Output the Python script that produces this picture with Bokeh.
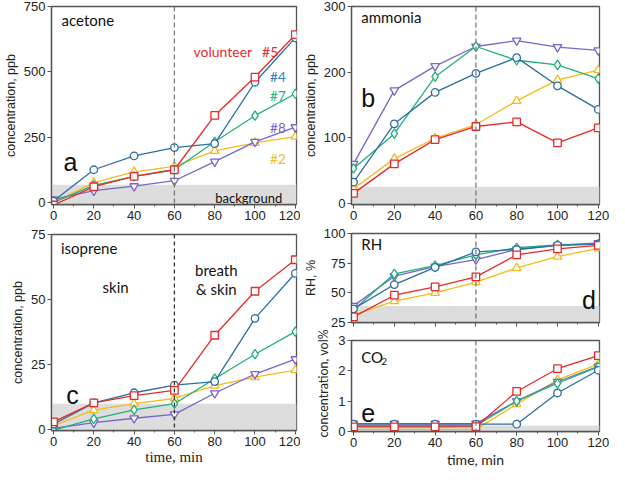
from bokeh.plotting import figure
from bokeh.layouts import row, column
from bokeh.models import Span, Label, BoxAnnotation, FixedTicker, CustomLabelingPolicy, Title
from bokeh.embed import file_html
from bokeh.resources import INLINE

# ---------------- data ----------------
time_min = [0, 20, 40, 60, 80, 100, 120]
x_ticks = [0, 20, 40, 60, 80, 100, 120]
x_minor_ticks = [10, 30, 50, 70, 90, 110]

volunteers = ["#2", "#8", "#7", "#4", "#5"]
vol_colors = {"#5": "#e52a2a", "#4": "#2b6da6", "#7": "#22b07a", "#8": "#7a64c8", "#2": "#f6bb1b"}
vol_markers = {"#5": "square", "#4": "circle", "#7": "diamond", "#8": "inverted_triangle", "#2": "triangle"}
vol_sizes = {"#5": 7.5, "#4": 7.5, "#7": 9.5, "#8": 8.5, "#2": 8.5}

acetone_5 = [-10, 60, 100, 125, 333, 480, 642]
acetone_4 = [5, 125, 178, 210, 225, 460, 630]
acetone_7 = [0, 65, 100, 125, 232, 332, 416]
acetone_8 = [12, 45, 62, 83, 156, 232, 288]
acetone_2 = [0, 76, 117, 138, 197, 228, 252]

ammonia_5 = [15, 60, 97, 117, 124, 92, 115]
ammonia_4 = [32, 121, 169, 198, 222, 179, 143]
ammonia_7 = [53, 106, 193, 239, 218, 211, 190]
ammonia_8 = [60, 172, 209, 239, 248, 238, 233]
ammonia_2 = [22, 68, 99, 120, 156, 188, 203]

isoprene_5 = [3.0, 10.3, 13.1, 15.1, 36.3, 53.2, 65.3]
isoprene_4 = [2.1, 10.3, 14.2, 17.1, 18.5, 42.8, 60.1]
isoprene_7 = [-0.2, 4.2, 7.6, 10.0, 19.6, 29.0, 37.7]
isoprene_8 = [0.5, 2.7, 4.4, 5.9, 14.0, 21.4, 27.1]
isoprene_2 = [1.6, 7.5, 10.0, 12.0, 16.9, 20.2, 22.9]

rh_5 = [29.7, 48.0, 55.0, 63.5, 82.0, 87.0, 90.0]
rh_4 = [36.5, 57.0, 71.5, 84.5, 86.5, 90.0, 91.0]
rh_7 = [35.5, 66.0, 73.0, 82.0, 88.0, 90.5, 91.0]
rh_8 = [39.0, 64.0, 72.0, 78.0, 86.5, 90.0, 92.0]
rh_2 = [31.5, 43.0, 50.0, 59.0, 71.0, 80.5, 87.5]

co2_5 = [0.15, 0.15, 0.15, 0.16, 1.32, 2.07, 2.50]
co2_4 = [0.24, 0.24, 0.24, 0.24, 0.24, 1.27, 2.02]
co2_7 = [0.19, 0.19, 0.19, 0.19, 1.00, 1.59, 2.13]
co2_8 = [0.26, 0.26, 0.26, 0.26, 1.00, 1.64, 2.15]
co2_2 = [0.07, 0.07, 0.07, 0.07, 0.90, 1.70, 2.22]

acetone = {"#5": acetone_5, "#4": acetone_4, "#7": acetone_7, "#8": acetone_8, "#2": acetone_2}
ammonia = {"#5": ammonia_5, "#4": ammonia_4, "#7": ammonia_7, "#8": ammonia_8, "#2": ammonia_2}
isoprene = {"#5": isoprene_5, "#4": isoprene_4, "#7": isoprene_7, "#8": isoprene_8, "#2": isoprene_2}
rh = {"#5": rh_5, "#4": rh_4, "#7": rh_7, "#8": rh_8, "#2": rh_2}
co2 = {"#5": co2_5, "#4": co2_4, "#7": co2_7, "#8": co2_8, "#2": co2_2}

background_acetone = 68
background_ammonia = 25
background_isoprene = 10
background_rh = 39
background_co2 = 0.2

acetone_ticks = [0, 250, 500, 750]
ammonia_ticks = [0, 100, 200, 300]
isoprene_ticks = [0, 25, 50, 75]
rh_ticks = [25, 50, 75, 100]
co2_ticks = [0, 1, 2, 3]

AX = "#555555"
TICK_FONT = "Liberation Sans"
SANS = "Lato"


def make_fig(width, height, yr, yticks, left, right, top, bottom, ylabel):
    p = figure(width=width, height=height, x_range=(-1, 120.6), y_range=yr,
               output_backend="svg", toolbar_location=None,
               min_border_left=left, min_border_right=right,
               min_border_top=top, min_border_bottom=bottom)
    p.grid.visible = False
    p.outline_line_color = AX
    p.outline_line_width = 1.3
    p.xaxis.ticker = FixedTicker(ticks=x_ticks, minor_ticks=x_minor_ticks)
    p.yaxis.ticker = FixedTicker(ticks=yticks)
    for ax in (p.xaxis, p.yaxis):
        ax.axis_line_color = AX
        ax.axis_line_width = 1.3
        ax.major_tick_line_color = AX
        ax.minor_tick_line_color = AX
        ax.major_tick_in = 0
        ax.major_tick_out = 4
        ax.minor_tick_in = 0
        ax.minor_tick_out = 2
        ax.major_label_text_font = TICK_FONT
        ax.major_label_text_font_size = "13px"
        ax.major_label_text_color = "#222222"
        ax.major_label_standoff = 2
    p.yaxis.minor_tick_out = 0
    if ylabel:
        p.yaxis.axis_label = ylabel
    p.yaxis.axis_label_text_font = TICK_FONT
    p.yaxis.axis_label_text_font_size = "12.5px"
    p.yaxis.axis_label_text_font_style = "normal"
    p.yaxis.axis_label_text_color = "#222222"
    p.yaxis.axis_label_standoff = 3
    return p


def add_series(p, data, bg, dash_color="#777777", dash="5 3"):
    p.add_layout(BoxAnnotation(top=bg, fill_color="#dddddd", fill_alpha=1,
                               line_alpha=0, level="underlay"))
    p.add_layout(Span(location=60, dimension="height", line_color=dash_color,
                      line_dash=dash, line_width=1.3))
    for v in volunteers:
        c = vol_colors[v]
        p.line(time_min, data[v], line_color=c, line_width=1.3)
        p.scatter(time_min, data[v], marker=vol_markers[v], size=vol_sizes[v],
                  line_color=c, fill_color="white", line_width=1.3)


def txt(p, x, y, text, size="15px", color="#111111", font=SANS, align="left",
        baseline="middle", angle=0.0):
    p.add_layout(Label(x=x, y=y, text=text, text_font=font, text_font_size=size,
                       text_color=color, text_align=align, text_baseline=baseline,
                       angle=angle))


# ---------------- panel a ----------------
pa = make_fig(300, 226, (-8, 750), acetone_ticks, 44, 4, 6, 22, "concentration, ppb")
add_series(pa, acetone, background_acetone)
txt(pa, 4, 697, "acetone")
txt(pa, 5, 155, "a", size="25px", font=TICK_FONT, baseline="alphabetic")
txt(pa, 69.5, 578, "volunteer", size="14px", color=vol_colors["#5"], baseline="alphabetic")
txt(pa, 103.5, 578, "#5", size="14px", color=vol_colors["#5"], baseline="alphabetic")
txt(pa, 107.5, 482, "#4", size="13.5px", color="#2a82c6", baseline="alphabetic")
txt(pa, 107.5, 406, "#7", size="13.5px", color=vol_colors["#7"], baseline="alphabetic")
txt(pa, 107.5, 284, "#8", size="13.5px", color=vol_colors["#8"], baseline="alphabetic")
txt(pa, 107.5, 166, "#2", size="13.5px", color=vol_colors["#2"], baseline="alphabetic")
txt(pa, 113.5, 15, "background", size="13px", align="right", baseline="alphabetic")

# ---------------- panel b ----------------
pb = make_fig(309, 226, (-2, 300), ammonia_ticks, 46, 10, 6, 22, "concentration, ppb")
add_series(pb, ammonia, background_ammonia)
txt(pb, 3.8, 284, "ammonia")
txt(pb, 3.8, 161, "b", size="25px", font=TICK_FONT, baseline="alphabetic")

# ---------------- panel c ----------------
pc = make_fig(300, 244, (-0.3, 75), isoprene_ticks, 44, 4, 8, 40, "concentration, ppb")
add_series(pc, isoprene, background_isoprene, dash_color="#333333", dash="4 3")
pc.xaxis.axis_label = "time, min"
pc.xaxis.axis_label_text_font = "Liberation Serif"
pc.xaxis.axis_label_text_font_size = "15px"
pc.xaxis.axis_label_text_font_style = "normal"
pc.xaxis.axis_label_text_color = "#222222"
pc.xaxis.axis_label_standoff = 0
txt(pc, 3.7, 70, "isoprene")
txt(pc, 30.8, 54.7, "skin", align="center")
txt(pc, 80.8, 61.2, "breath", align="center")
txt(pc, 80.8, 54.0, "& skin", align="center")
txt(pc, 6.3, 13.5, "c", size="25px", font=TICK_FONT, baseline="alphabetic")

# ---------------- panel d ----------------
pd_ = make_fig(309, 104, (25, 100), rh_ticks, 46, 10, 7, 5, "RH, %")
add_series(pd_, rh, background_rh)
pd_.xaxis.major_label_text_font_size = "1px"
pd_.xaxis.major_label_standoff = 0
pd_.xaxis.major_label_policy = CustomLabelingPolicy(
    code="const ids = Array.from(indices); for (const i of ids) { indices.unset(i) }")
txt(pd_, 3.8, 91.4, "RH")
txt(pd_, 112, 43.8, "d", size="25px", font=TICK_FONT, baseline="alphabetic")

# ---------------- panel e ----------------
pe = make_fig(309, 140, (0, 3), co2_ticks, 46, 10, 10, 38, None)
add_series(pe, co2, background_co2)
pe.xaxis.axis_label = "time, min"
pe.xaxis.axis_label_text_font = SANS
pe.xaxis.axis_label_text_font_size = "14px"
pe.xaxis.axis_label_text_font_style = "normal"
pe.xaxis.axis_label_text_color = "#222222"
pe.xaxis.axis_label_standoff = 1
txt(pe, 3.8, 2.47, "CO")
txt(pe, 13.6, 2.3, "2", size="10px")
txt(pe, 3.8, 0.6, "e", size="25px", font=TICK_FONT, baseline="alphabetic")
pe.add_layout(Title(text="concentration, vol%", align="left", offset=-6,
                    text_font=SANS, text_font_size="12.5px", text_font_style="normal",
                    text_color="#222222", standoff=10), "left")

layout = row(column(pa, pc), column(pb, pd_, pe))
open("out.html", "w").write(file_html(layout, INLINE))
